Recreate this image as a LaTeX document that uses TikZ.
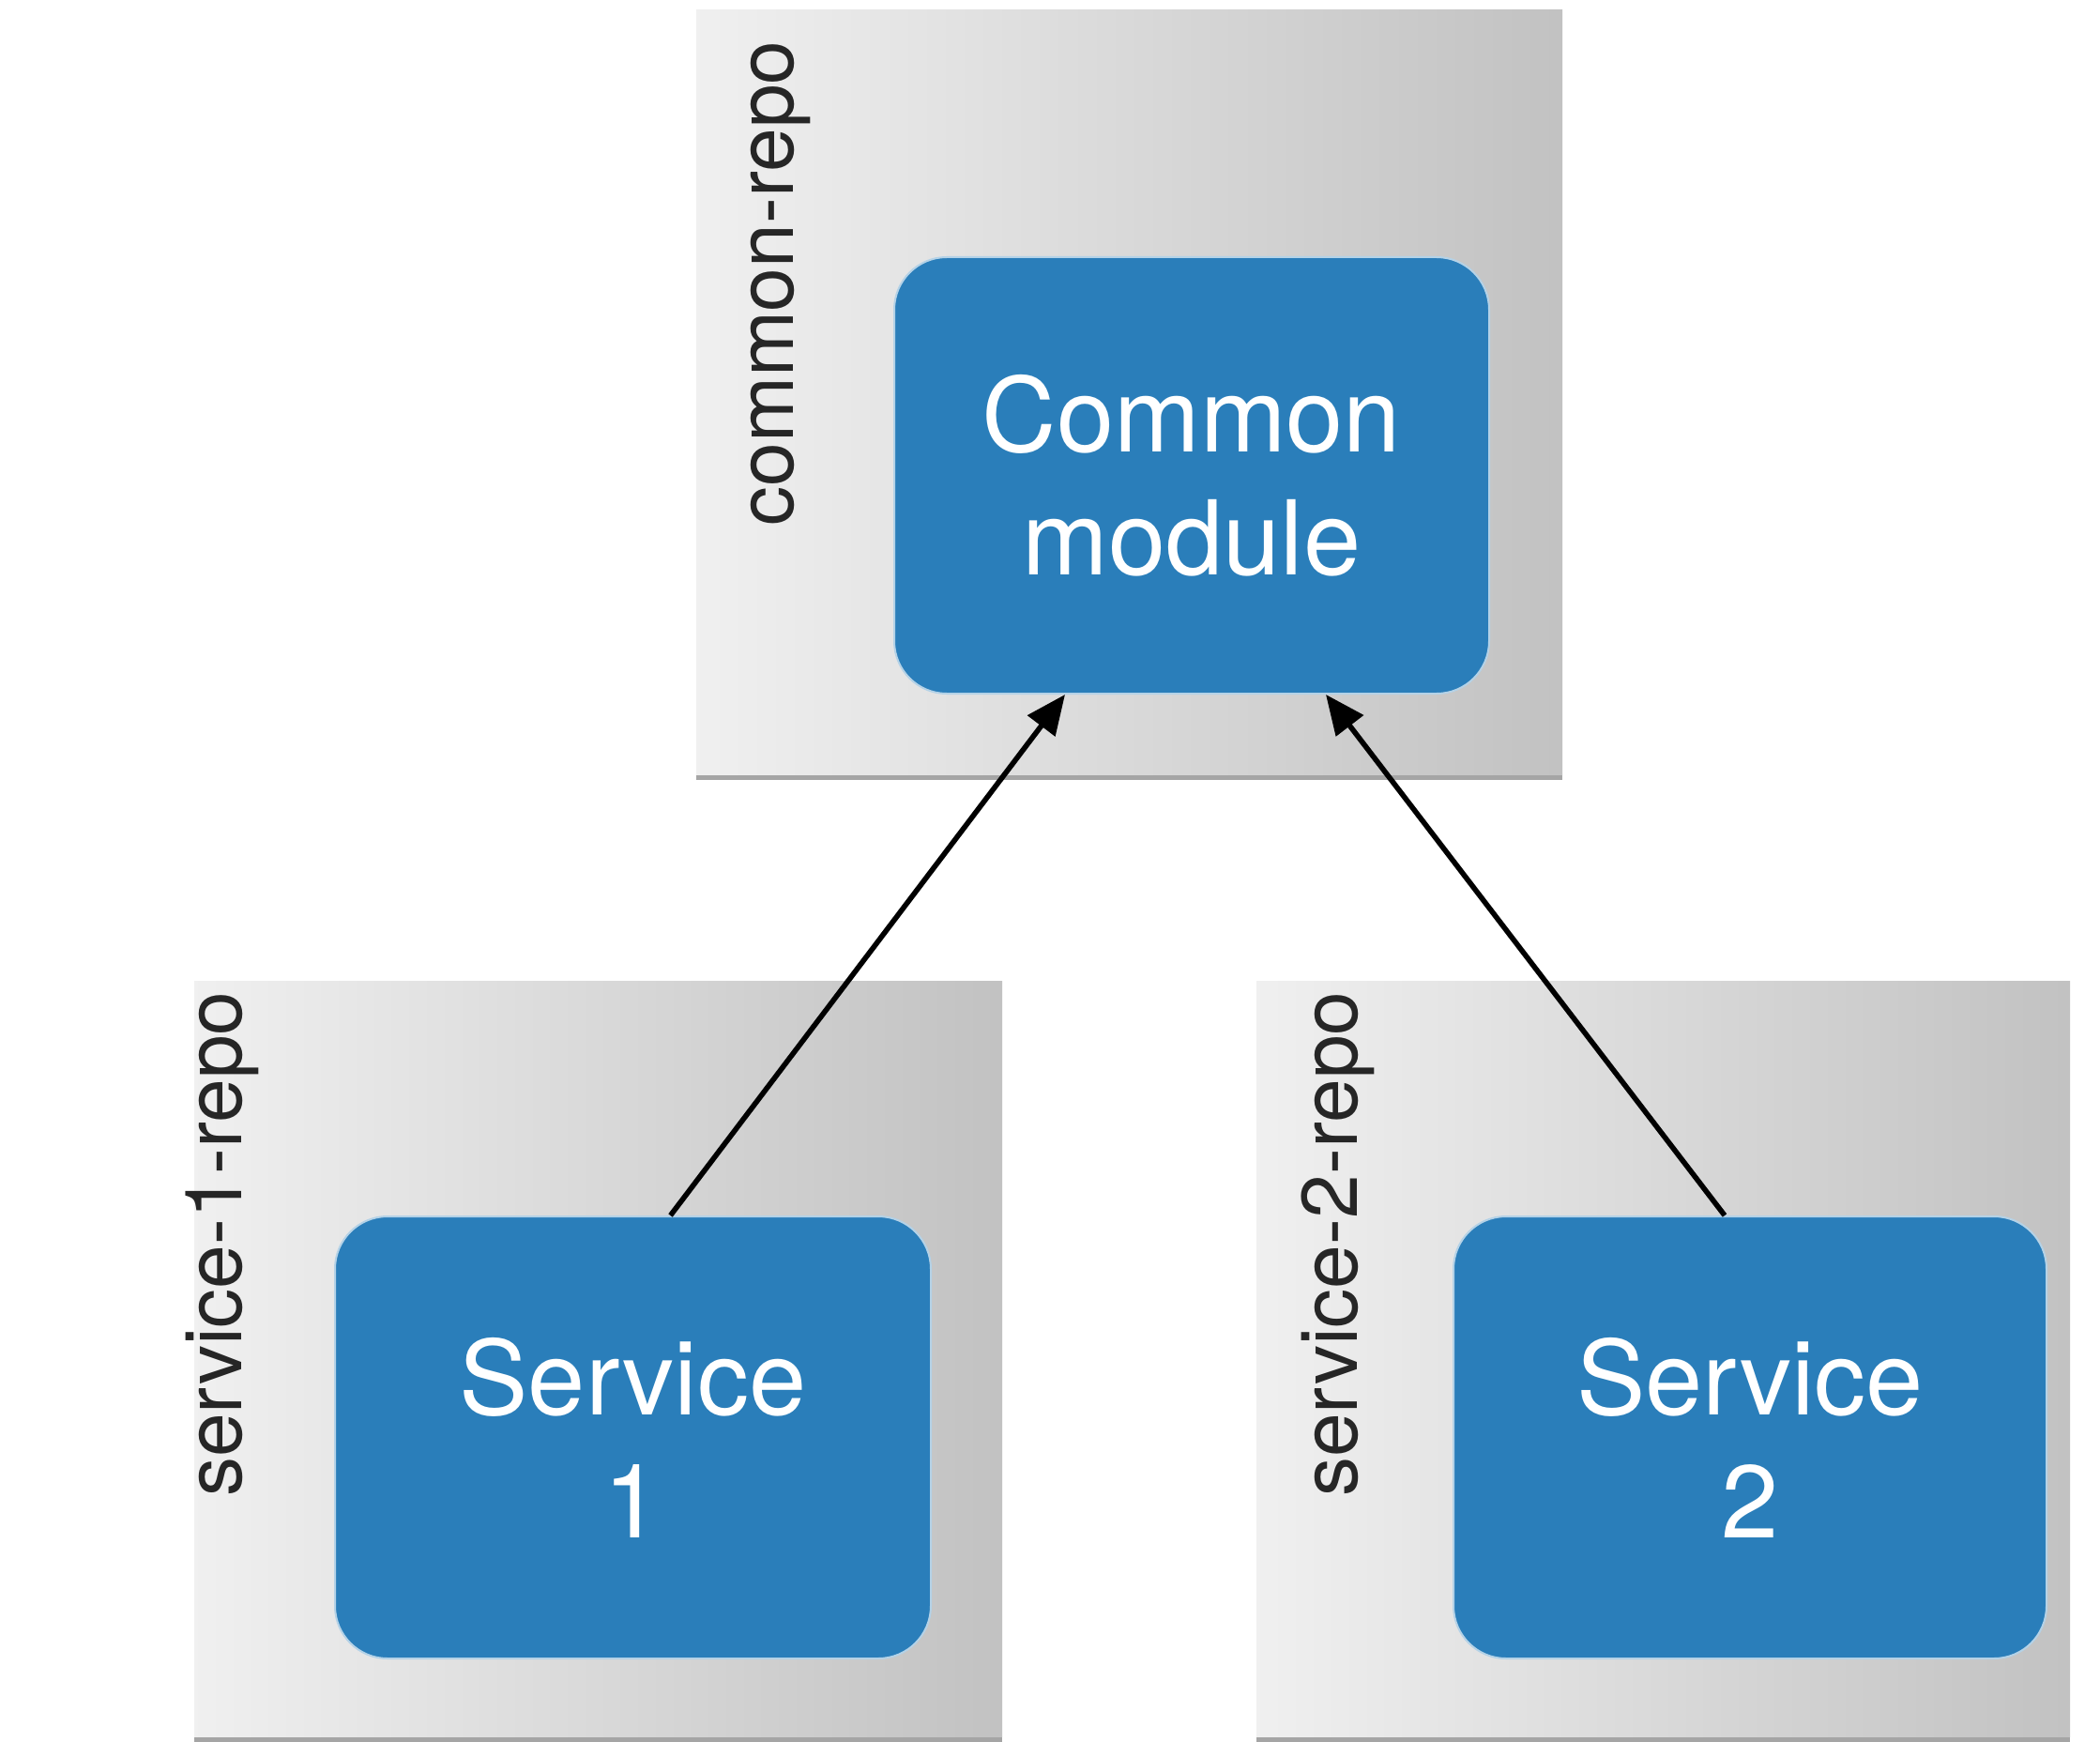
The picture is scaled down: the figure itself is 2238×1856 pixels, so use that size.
\documentclass[tikz,border=0pt]{standalone}
\usepackage{fontspec}
\setmainfont{TeX Gyre Heros}
\usetikzlibrary{arrows.meta,shadows}
\definecolor{modblue}{HTML}{2A7EBA}
\begin{document}
\begin{tikzpicture}[x=0.5pt,y=-0.5pt,
  repo/.style={rectangle, inner sep=0pt, left color=black!6, right color=black!24, draw=none,
    drop shadow={shadow xshift=0pt, shadow yshift=-3pt, opacity=0.5, fill=black!70}},
  mod/.style={rectangle, rounded corners=28pt, fill=modblue, draw=white!65!modblue, line width=1pt,
    text=white, align=center, font=\fontsize{55}{65.5}\selectfont, inner sep=0pt},
  lbl/.style={rotate=90, inner sep=0pt, font=\fontsize{42}{50}\selectfont, text=black!85},
  arr/.style={line width=2.8pt, -{Triangle[length=21pt,width=18pt]}}]
\useasboundingbox (0,0) rectangle (2238,1856);
\fill[white] (0,0) rectangle (2238,1856);
% repository boxes
\node[repo, minimum width=461.5pt, minimum height=407pt] (crepo) at (1203.5,418) {};
\node[repo, minimum width=430.5pt, minimum height=402.5pt] (r1) at (637.5,1447.5) {};
\node[repo, minimum width=433.5pt, minimum height=402.5pt] (r2) at (1772.5,1447.5) {};
% repository labels
\node[lbl, anchor=east] (lc) at (832,43) {common-repo};
\node[lbl, anchor=east] (l1) at (237,1056) {service-1-repo};
\node[lbl, anchor=east] (l2) at (1426,1056) {service-2-repo};
% modules
\node[mod, minimum width=317pt, minimum height=232.5pt] (cm) at (1270,506.5) {Common\\module};
\node[mod, minimum width=317.5pt, minimum height=235.5pt] (s1) at (674.5,1531.5) {Service\\1};
\node[mod, minimum width=316pt, minimum height=235.5pt] (s2) at (1865,1531.5) {Service\\2};
% dependencies
\draw[arr] ([xshift=20pt]s1.north) -- ([xshift=-67.5pt]cm.south);
\draw[arr] ([xshift=-13.5pt]s2.north) -- ([xshift=71.5pt]cm.south);
\end{tikzpicture}
\end{document}
